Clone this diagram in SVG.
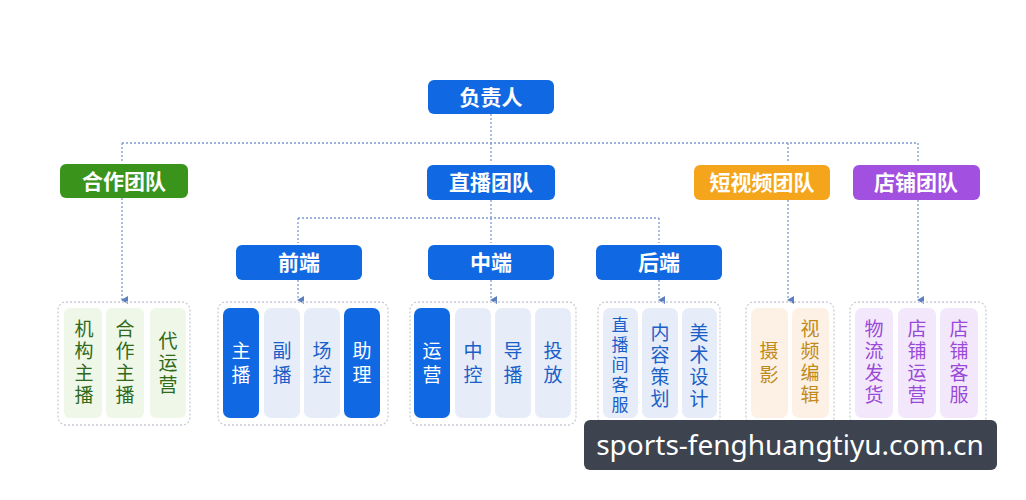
<svg xmlns="http://www.w3.org/2000/svg" width="1026" height="500" viewBox="0 0 1026 500">
<defs>
<marker id="ah" markerWidth="8" markerHeight="8" refX="4" refY="6" orient="auto" markerUnits="userSpaceOnUse"><path d="M0,0 L8,0 L4,7 Z" fill="#5b7fc0"/></marker>
<style>
text{font-family:"Noto Sans CJK SC","Liberation Sans",sans-serif;text-anchor:middle}
.hd{font-size:21px;fill:#fff;font-weight:bold}
.c{font-size:19px}
.ln{stroke:#7d9bd0;stroke-width:1.3;stroke-dasharray:2 2;fill:none}
.grp{fill:none;stroke:#c8ccd4;stroke-width:1.3;stroke-dasharray:2 2}
.blue{fill:#1168e3}.lb{fill:#e6edf8}
</style>
</defs>
<rect width="1026" height="500" fill="#fff"/>
<g id="connectors">
<path class="ln" d="M491,114 V143 M122,143 H918 M122,143 V162 M491,143 V163 M788,143 V162 M918,143 V162"/>
<path class="ln" d="M491,200 V218 M298,218 H659 M298,218 V243 M491,218 V243 M659,218 V243"/>
<path class="ln" d="M122,198 V300" marker-end="url(#ah)"/>
<path class="ln" d="M298,280 V300" marker-end="url(#ah)"/>
<path class="ln" d="M491,280 V300" marker-end="url(#ah)"/>
<path class="ln" d="M659,280 V300" marker-end="url(#ah)"/>
<path class="ln" d="M788,200 V300" marker-end="url(#ah)"/>
<path class="ln" d="M918,200 V300" marker-end="url(#ah)"/>
</g>
<g id="n-fzr"><rect x="428" y="80" width="126" height="34" rx="6" class="blue"/><text x="491" y="105" class="hd">负责人</text></g>
<g id="n-hz"><rect x="60" y="164" width="128" height="34" rx="6" fill="#3a941c"/><text x="124" y="189" class="hd">合作团队</text></g>
<g id="n-zb"><rect x="427" y="165" width="128" height="35" rx="6" class="blue"/><text x="491" y="190" class="hd">直播团队</text></g>
<g id="n-dsp"><rect x="694" y="165" width="136" height="35" rx="6" fill="#f5a51c"/><text x="762" y="190" class="hd">短视频团队</text></g>
<g id="n-dp"><rect x="853" y="165" width="127" height="35" rx="6" fill="#a250e0"/><text x="916" y="190" class="hd">店铺团队</text></g>
<g id="n-qd"><rect x="236" y="245" width="126" height="35" rx="6" class="blue"/><text x="299" y="270" class="hd">前端</text></g>
<g id="n-zd"><rect x="428" y="245" width="126" height="35" rx="6" class="blue"/><text x="491" y="270" class="hd">中端</text></g>
<g id="n-hd"><rect x="596" y="245" width="126" height="35" rx="6" class="blue"/><text x="659" y="270" class="hd">后端</text></g>

<g id="g-hz">
<rect x="58" y="302" width="132" height="123" rx="8" class="grp"/>
<rect x="64" y="308" width="38" height="110" rx="6" fill="#eef7e8"/>
<rect x="106" y="308" width="38" height="110" rx="6" fill="#eef7e8"/>
<rect x="150" y="308" width="36" height="110" rx="6" fill="#eef7e8"/>
<g fill="#2f6a1a"><text x="84" y="336" class="c">机<tspan x="84" dy="22">构</tspan><tspan x="84" dy="22">主</tspan><tspan x="84" dy="22">播</tspan></text>
<text x="125" y="336" class="c">合<tspan x="125" dy="22">作</tspan><tspan x="125" dy="22">主</tspan><tspan x="125" dy="22">播</tspan></text>
<text x="168" y="348" class="c">代<tspan x="168" dy="22">运</tspan><tspan x="168" dy="22">营</tspan></text></g>
</g>

<g id="g-qd">
<rect x="218" y="302" width="170" height="123" rx="8" class="grp"/>
<rect x="223" y="308" width="36" height="110" rx="7" class="blue"/>
<rect x="264" y="308" width="36" height="110" rx="7" class="lb"/>
<rect x="304" y="308" width="36" height="110" rx="7" class="lb"/>
<rect x="344" y="308" width="36" height="110" rx="7" class="blue"/>
<text x="241" y="358" class="c" fill="#fff">主<tspan x="241" dy="24">播</tspan></text>
<text x="282" y="358" class="c" fill="#1a5fc8">副<tspan x="282" dy="24">播</tspan></text>
<text x="322" y="358" class="c" fill="#1a5fc8">场<tspan x="322" dy="24">控</tspan></text>
<text x="362" y="358" class="c" fill="#fff">助<tspan x="362" dy="24">理</tspan></text>
</g>

<g id="g-zd">
<rect x="410" y="302" width="166" height="123" rx="8" class="grp"/>
<rect x="414" y="308" width="36" height="110" rx="7" class="blue"/>
<rect x="455" y="308" width="36" height="110" rx="7" class="lb"/>
<rect x="495" y="308" width="36" height="110" rx="7" class="lb"/>
<rect x="535" y="308" width="36" height="110" rx="7" class="lb"/>
<text x="432" y="358" class="c" fill="#fff">运<tspan x="432" dy="24">营</tspan></text>
<text x="473" y="358" class="c" fill="#1a5fc8">中<tspan x="473" dy="24">控</tspan></text>
<text x="513" y="358" class="c" fill="#1a5fc8">导<tspan x="513" dy="24">播</tspan></text>
<text x="553" y="358" class="c" fill="#1a5fc8">投<tspan x="553" dy="24">放</tspan></text>
</g>

<g id="g-hd">
<rect x="598" y="302" width="122" height="123" rx="8" class="grp"/>
<rect x="603" y="308" width="35" height="110" rx="7" class="lb"/>
<rect x="642" y="308" width="36" height="110" rx="7" class="lb"/>
<rect x="682" y="308" width="35" height="110" rx="7" class="lb"/>
<text x="620" y="331" class="c" fill="#1a5fc8" style="font-size:17px">直<tspan x="620" dy="20">播</tspan><tspan x="620" dy="20">间</tspan><tspan x="620" dy="20">客</tspan><tspan x="620" dy="20">服</tspan></text>
<text x="660" y="340" class="c" fill="#1a5fc8">内<tspan x="660" dy="22">容</tspan><tspan x="660" dy="22">策</tspan><tspan x="660" dy="22">划</tspan></text>
<text x="699" y="340" class="c" fill="#1a5fc8">美<tspan x="699" dy="22">术</tspan><tspan x="699" dy="22">设</tspan><tspan x="699" dy="22">计</tspan></text>
</g>

<g id="g-dsp">
<rect x="746" y="302" width="88" height="123" rx="8" class="grp"/>
<rect x="751" y="308" width="37" height="110" rx="7" fill="#fdf1e6"/>
<rect x="792" y="308" width="37" height="110" rx="7" fill="#fdf1e6"/>
<text x="769" y="358" class="c" fill="#c08a1a">摄<tspan x="769" dy="24">影</tspan></text>
<text x="810" y="336" class="c" fill="#c08a1a">视<tspan x="810" dy="22">频</tspan><tspan x="810" dy="22">编</tspan><tspan x="810" dy="22">辑</tspan></text>
</g>

<g id="g-dp">
<rect x="850" y="302" width="136" height="123" rx="8" class="grp"/>
<rect x="855" y="308" width="38" height="110" rx="7" fill="#f3e8fb"/>
<rect x="898" y="308" width="38" height="110" rx="7" fill="#f3e8fb"/>
<rect x="940" y="308" width="38" height="110" rx="7" fill="#f3e8fb"/>
<text x="874" y="336" class="c" fill="#9a4ad8">物<tspan x="874" dy="22">流</tspan><tspan x="874" dy="22">发</tspan><tspan x="874" dy="22">货</tspan></text>
<text x="917" y="336" class="c" fill="#9a4ad8">店<tspan x="917" dy="22">铺</tspan><tspan x="917" dy="22">运</tspan><tspan x="917" dy="22">营</tspan></text>
<text x="959" y="336" class="c" fill="#9a4ad8">店<tspan x="959" dy="22">铺</tspan><tspan x="959" dy="22">客</tspan><tspan x="959" dy="22">服</tspan></text>
</g>

<g id="watermark">
<rect x="584" y="420" width="413" height="50" rx="6" fill="#3d4450"/>
<text x="790" y="455" fill="#fff" style="font-family:'Noto Sans','Liberation Sans',sans-serif;font-size:28px">sports-fenghuangtiyu.com.cn</text>
</g>
</svg>
